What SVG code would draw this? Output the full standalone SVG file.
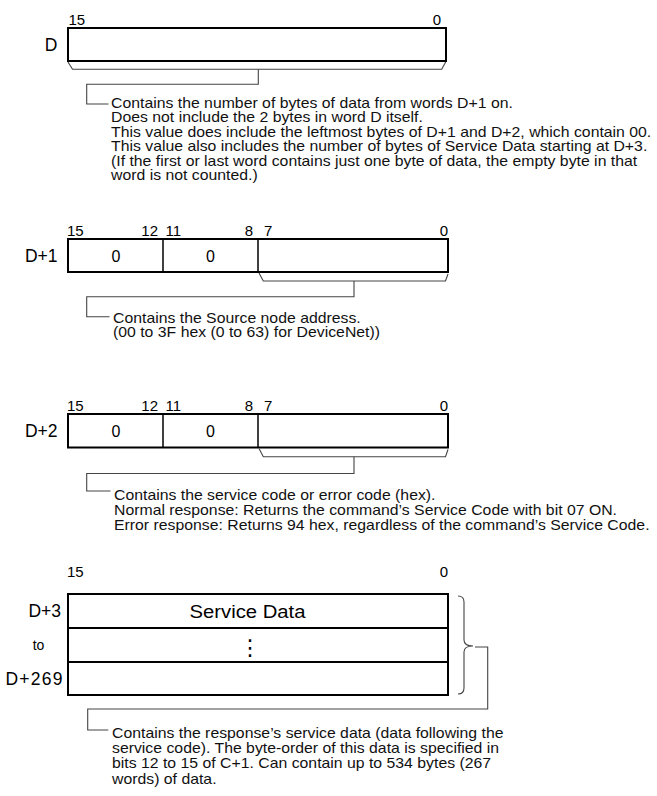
<svg xmlns="http://www.w3.org/2000/svg" width="657" height="796" viewBox="0 0 657 796">
<style>
  .box{fill:#fff;stroke:#000;stroke-width:2}
  .div{fill:none;stroke:#000;stroke-width:1.5}
  .row{fill:none;stroke:#000;stroke-width:2.2}
  .ln{fill:none;stroke:#444;stroke-width:1.1}
  .lbl{font-family:"Liberation Sans",Arial,sans-serif;font-size:17.5px;fill:#000}
  .bit{font-family:"Liberation Sans",Arial,sans-serif;font-size:15px;fill:#000}
  .val{font-family:"Liberation Sans",Arial,sans-serif;font-size:16px;fill:#000;text-anchor:middle}
  .b{font-family:"Liberation Sans",Arial,sans-serif;font-size:14px;fill:#111}
  .e{text-anchor:end}
  .m{text-anchor:middle}
</style>

<g id="wordD">
  <rect class="box" x="68" y="28" width="378" height="33"/>
  <text class="lbl e" x="57.5" y="51">D</text>
  <text class="bit" x="68.5" y="25">15</text>
  <text class="bit e" x="441" y="25">0</text>
  <text class="b" transform="matrix(1.13 0 0 1 111 108)"><tspan x="0" y="0">Contains the number of bytes of data from words D+1 on.</tspan><tspan x="0" y="14.4">Does not include the 2 bytes in word D itself.</tspan><tspan x="0" y="28.8">This value does include the leftmost bytes of D+1 and D+2, which contain 00.</tspan><tspan x="0" y="43.2">This value also includes the number of bytes of Service Data starting at D+3.</tspan><tspan x="0" y="57.6">(If the first or last word contains just one byte of data, the empty byte in that</tspan><tspan x="0" y="72">word is not counted.)</tspan></text>
</g>

<g id="wordD1">
  <rect class="box" x="68" y="239" width="380" height="33"/>
  <line class="div" x1="163" y1="239" x2="163" y2="272"/>
  <line class="div" x1="258" y1="239" x2="258" y2="272"/>
  <text class="lbl e" x="57.5" y="262">D+1</text>
  <text class="bit" x="67" y="235.5">15</text>
  <text class="bit e" x="158" y="235.5">12</text>
  <text class="bit" x="165.5" y="235.5">11</text>
  <text class="bit e" x="253" y="235.5">8</text>
  <text class="bit" x="264" y="235.5">7</text>
  <text class="bit e" x="448" y="235.5">0</text>
  <text class="val" x="116" y="262">0</text>
  <text class="val" x="210.5" y="262">0</text>
  <text class="b" transform="matrix(1.13 0 0 1 113 322.5)"><tspan x="0" y="0">Contains the Source node address.</tspan><tspan x="0" y="14.5">(00 to 3F hex (0 to 63) for DeviceNet))</tspan></text>
</g>

<g id="wordD2">
  <rect class="box" x="68" y="414" width="380" height="33.5"/>
  <line class="div" x1="163" y1="414" x2="163" y2="447.5"/>
  <line class="div" x1="258" y1="414" x2="258" y2="447.5"/>
  <text class="lbl e" x="57.5" y="437">D+2</text>
  <text class="bit" x="67" y="411">15</text>
  <text class="bit e" x="158" y="411">12</text>
  <text class="bit" x="165.5" y="411">11</text>
  <text class="bit e" x="253" y="411">8</text>
  <text class="bit" x="264" y="411">7</text>
  <text class="bit e" x="448" y="411">0</text>
  <text class="val" x="116" y="437">0</text>
  <text class="val" x="210.5" y="437">0</text>
  <text class="b" transform="matrix(1.13 0 0 1 114 499.5)"><tspan x="0" y="0">Contains the service code or error code (hex).</tspan><tspan x="0" y="15.5">Normal response: Returns the command’s Service Code with bit 07 ON.</tspan><tspan x="0" y="31">Error response: Returns 94 hex, regardless of the command’s Service Code.</tspan></text>
</g>

<g id="wordD3">
  <rect class="box" x="68" y="594" width="380" height="101"/>
  <line class="row" x1="68" y1="628" x2="448" y2="628"/>
  <line class="row" x1="68" y1="662" x2="448" y2="662"/>
  <text class="bit" x="67" y="577">15</text>
  <text class="bit e" x="448" y="577">0</text>
  <text class="lbl e" x="61" y="617">D+3</text>
  <text class="bit m" x="38.5" y="650" style="font-size:14px">to</text>
  <text class="lbl e" x="62.5" y="685" textLength="57" lengthAdjust="spacing">D+269</text>
  <text class="val" x="247.5" y="617.5" style="font-size:17.5px" textLength="116" lengthAdjust="spacingAndGlyphs">Service Data</text>
  <text class="m" x="250" y="655" style="font-family:'DejaVu Sans',sans-serif;font-size:22px">⋮</text>
  <text class="b" transform="matrix(1.13 0 0 1 112 737.5)"><tspan x="0" y="0">Contains the response’s service data (data following the</tspan><tspan x="0" y="15.5">service code). The byte-order of this data is specified in</tspan><tspan x="0" y="31">bits 12 to 15 of C+1. Can contain up to 534 bytes (267</tspan><tspan x="0" y="46.5">words) of data.</tspan></text>
</g>

<g id="connectors">
  <path class="ln" d="M68,62 L72.5,69.3 H441.7 L445.7,62"/>
  <path class="ln" d="M258.3,69.3 V84.3 H86.7 V104 H108.5"/>
  <path class="ln" d="M259,273 L263.3,281 H445.5 L448,274"/>
  <path class="ln" d="M354,281 V296.7 H86.7 V316.7 H109.5"/>
  <path class="ln" d="M259,448.5 L263.3,456.7 H445.5 L448,449.5"/>
  <path class="ln" d="M354,456.7 V473.5 H86.7 V491 H110.5"/>
  <path class="ln" d="M458,596 Q464,596 464,602 V640 Q464,646 473,646 Q464,646 464,652 V688 Q464,694 458,694"/>
  <path class="ln" d="M475,647 H487.7 V709 H87.7 V730 H108.3"/>
</g>
</svg>
